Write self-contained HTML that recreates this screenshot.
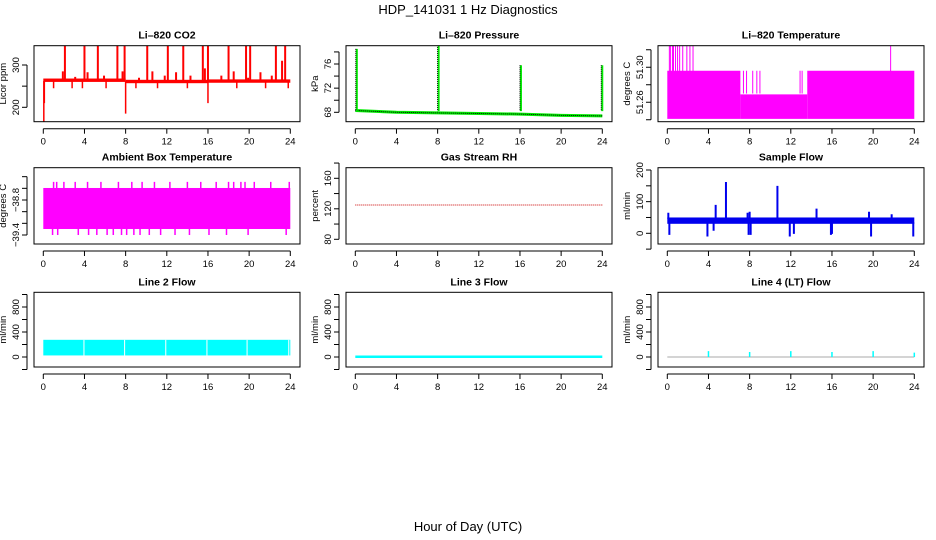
<!DOCTYPE html>
<html><head><meta charset="utf-8">
<style>
html,body{margin:0;padding:0;background:#fff;}
svg{display:block;font-family:"Liberation Sans",sans-serif;}
</style></head>
<body>
<svg id="chart" width="936" height="540" viewBox="0 0 936 540" xmlns="http://www.w3.org/2000/svg">
<text x="468" y="14" text-anchor="middle" font-size="13">HDP_141031  1 Hz Diagnostics</text>
<text x="468" y="531" text-anchor="middle" font-size="13">Hour of Day (UTC)</text>
</svg>
<script>
// ---- shared data ----
const xTicks = [0,4,8,12,16,20,24];
// CO2
const co2Base = [[0,8,264],[8,16,261],[16,24,262]];
const co2BigSpikes = [2.1,4.0,5.3,7.2,7.9,10.1,12.1,13.6,15.5,16.0,18.0,19.7,20.1,22.6,23.5];
const co2BigTop = 345;
const co2SmallSpikes = [[1.9,285],[3.1,272],[4.3,283],[5.9,275],[7.7,285],[9.3,270],[10.6,285],[11.8,275],[12.9,283],[14.3,275],[15.7,292],[17.3,275],[18.5,285],[19.9,270],[21.1,283],[22.2,275],[23.2,310]];
const co2Dips = [[0.05,165],[0.1,210],[1.0,245],[2.8,245],[3.8,245],[6.1,245],[8.0,185],[9.0,245],[11.1,245],[14.0,245],[16.0,210],[18.8,245],[21.6,245],[23.8,245]];
// Pressure
const presBase = [[0,68.3],[4,68.0],[8,67.9],[12,67.8],[16,67.7],[20,67.5],[24,67.4]];
const presSpikes = [[0.05,78.5],[8.0,79.8],[16.0,75.8],[23.9,75.8]];
// Li-820 temperature bands [start,end,top]
const tempBands = [[0,7.1,51.306],[7.1,13.6,51.279],[13.6,24,51.306]];
const tempBottom = 51.251;
const tempSpikesTop = [0.2,0.3,0.5,0.6,0.8,1.0,1.2,1.5,1.9,2.2,2.5,21.7];
const tempSpikesMid = [7.4,7.7,8.3,8.7,9.0,12.9,13.1];
const tempMax = 51.333;
// Ambient box temperature
const ambTop = -38.594, ambBottom = -39.297;
const ambUp = [1.0,1.3,2.0,3.1,4.3,5.6,7.3,8.6,9.6,10.8,12.3,14.0,15.3,16.8,18.0,18.5,19.2,19.6,20.5,22.1,23.9];
const ambUpVal = -38.49;
const ambDown = [0.9,1.4,3.4,4.4,5.2,6.2,6.8,7.6,8.1,8.8,9.4,10.3,11.4,12.8,14.2,16.1,17.8,19.9,23.6];
const ambDownVal = -39.4;
// Gas stream RH
const rhValue = 125;
// Sample flow
const flowLow = 30, flowHigh = 50;
const flowSpikes = [[0.1,65],[4.7,90],[5.7,162],[7.8,65],[8.0,68],[10.7,150],[14.5,78],[19.6,68],[21.8,60]];
const flowDips = [[0.2,-5],[3.9,-10],[4.5,8],[7.9,-5],[8.1,-5],[11.9,-10],[12.3,-2],[15.9,-5],[16.0,-2],[19.8,-10],[23.9,-10]];
// Line flows
const line2Low = 25, line2High = 275;
const line2Gaps = [3.95,7.9,11.9,15.9,19.8,23.85];
const line3Value = 5;
const line4Value = 0;
const line4Spikes = [[4.0,95],[8.0,80],[12.0,95],[16.0,80],[20.0,95],[24.0,70]];

// ---- layout ----
const svg = document.getElementById('chart');
const NS = 'http://www.w3.org/2000/svg';
const colL = [34,346,658], colR = [300,612,924], colX0 = [43.3,355.3,667.3], xSpan = 247;
const rowT = [45.7,167.7,292.3], rowB = [121.7,244,367];

function mk(tag, attrs, parent){
  const e = document.createElementNS(NS, tag);
  for (const k in attrs) e.setAttribute(k, attrs[k]);
  (parent||svg).appendChild(e);
  return e;
}
function panel(col,row,title,yLabel,yTicks,yTickLabels,v1,p1,v2,p2,name){
  const g = mk('g',{});
  
  
  const L=colL[col],R=colR[col],T=rowT[row],B=rowB[row];
  const xs = h => colX0[col] + h/24*xSpan;
  const ys = v => p1 + (v - v1)/(v2 - v1)*(p2 - p1);
  const plot = mk('g',{'clip-path':''},g);
  const cid='clip'+col+row;
  const cp = mk('clipPath',{id:cid},g);
  mk('rect',{x:L,y:T,width:R-L,height:B-T},cp);
  plot.setAttribute('clip-path','url(#'+cid+')');
  
  
  const fr = mk('rect',{x:L,y:T,width:R-L,height:B-T,fill:'none',stroke:'#000','stroke-width':1},g);
  
  
  const tt = mk('text',{x:(L+R)/2,y:T-7,'text-anchor':'middle','font-size':10.5,'font-weight':'bold'},g);
  tt.textContent = title;
  
  
  // x axis
  const ax = mk('g',{},g);
  
  
  const ya = B+7;
  mk('line',{x1:xs(0),x2:xs(24),y1:ya,y2:ya,stroke:'#000'},ax);
  xTicks.forEach(t=>{
    mk('line',{x1:xs(t),x2:xs(t),y1:ya,y2:ya+5,stroke:'#000'},ax);
    const tx = mk('text',{x:xs(t),y:ya+16,'text-anchor':'middle','font-size':9.5},ax);
    tx.textContent = t;
    
    
  });
  // y axis
  const ay = mk('g',{},g);
  
  
  const xa = L-7;
  mk('line',{x1:xa,x2:xa,y1:ys(yTicks[0]),y2:ys(yTicks[yTicks.length-1]),stroke:'#000'},ay);
  yTicks.forEach((t,i)=>{
    mk('line',{x1:xa,x2:xa-5,y1:ys(t),y2:ys(t),stroke:'#000'},ay);
    if (yTickLabels[i]!==''){
      const tx = mk('text',{x:0,y:0,'text-anchor':'middle','font-size':9.5,transform:`translate(${xa-8},${ys(t)}) rotate(-90)`},ay);
      tx.textContent = yTickLabels[i];
      
      
    }
  });
  const yt = mk('text',{x:0,y:0,'text-anchor':'middle','font-size':9.5,transform:`translate(${xa-21},${(T+B)/2}) rotate(-90)`},g);
  yt.textContent = yLabel;
  
  
  return {plot,xs,ys};
}
function vline(p,x,y1,y2,color,w,name){
  const e = mk('line',{x1:x,x2:x,y1:y1,y2:y2,stroke:color,'stroke-width':w||1},p);
  
  
  return e;
}
function rect(p,x1,x2,y1,y2,color,name){
  const e = mk('rect',{x:Math.min(x1,x2),y:Math.min(y1,y2),width:Math.abs(x2-x1),height:Math.abs(y2-y1),fill:color},p);
  
  
  return e;
}

// 1 CO2
(function(){
  const P = panel(0,0,'Li\u2013820 CO2','Licor ppm',[200,250,300],['200','','300'],200,107.3,300,65,'panel-co2');
  const red='#ff0000';
  co2Base.forEach(b=>rect(P.plot,P.xs(b[0]),P.xs(b[1]),P.ys(b[2]+4),P.ys(b[2]-4),red,'co2-baseline'));
  co2BigSpikes.forEach(h=>vline(P.plot,P.xs(h),P.ys(co2BigTop),P.ys(262),red,2,'co2-spike'));
  co2SmallSpikes.forEach(s=>vline(P.plot,P.xs(s[0]),P.ys(s[1]),P.ys(262),red,2,'co2-small-spike'));
  co2Dips.forEach(s=>vline(P.plot,P.xs(s[0]),P.ys(262),P.ys(s[1]),red,1.5,'co2-dip'));
})();
// 2 Pressure
(function(){
  const P = panel(1,0,'Li\u2013820 Pressure','kPa',[68,70,72,74,76,78],['68','','72','','76',''],68,112.3,76,64,'panel-pressure');
  const pts = presBase.map(p=>P.xs(p[0])+','+P.ys(p[1])).join(' ');
  const l = mk('polyline',{points:pts,fill:'none',stroke:'#00ee00','stroke-width':3},P.plot);
  
  
  const l2 = mk('polyline',{points:pts,fill:'none',stroke:'#000','stroke-width':1,'stroke-dasharray':'1,1'},P.plot);
  
  
  presSpikes.forEach(s=>{
    vline(P.plot,P.xs(s[0])+1,P.ys(s[1]),P.ys(68.2),'#00ee00',2,'pressure-spike');
    const d = vline(P.plot,P.xs(s[0]),P.ys(s[1]),P.ys(68.2),'#000',1,'pressure-spike-dotted');
    d.setAttribute('stroke-dasharray','1,1');
  });
})();
// 3 Li-820 Temperature
(function(){
  const P = panel(2,0,'Li\u2013820 Temperature','degrees C',[51.25,51.27,51.29,51.31,51.33].map(v=>v+0.0),['','51.26','','51.30',''],51.30,76,51.26,111,'panel-li820-temp');
  // ticks: 51.26/51.30 labeled
  const mag='#ff00ff';
  tempBands.forEach(b=>rect(P.plot,P.xs(b[0]),P.xs(b[1]),P.ys(b[2]),P.ys(tempBottom),mag,'temp-band'));
  tempSpikesTop.forEach(h=>vline(P.plot,P.xs(h),P.ys(tempMax+0.01),P.ys(51.30),mag,1,'temp-spike'));
  tempSpikesMid.forEach(h=>vline(P.plot,P.xs(h),P.ys(51.306),P.ys(51.28),mag,1,'temp-spike'));
})();
// 4 Ambient
(function(){
  const P = panel(0,1,'Ambient Box Temperature','degrees C',[-38.4,-38.6,-38.8,-39.0,-39.2,-39.4],['','','\u221238.8','','','\u221239.4'],-38.8,200,-39.4,235,'panel-ambient-temp');
  const mag='#ff00ff';
  rect(P.plot,P.xs(0),P.xs(24),P.ys(ambTop),P.ys(ambBottom),mag,'ambient-band');
  ambUp.forEach(h=>vline(P.plot,P.xs(h),P.ys(ambUpVal),P.ys(ambTop),mag,1.5,'ambient-spike'));
  ambDown.forEach(h=>vline(P.plot,P.xs(h),P.ys(ambBottom),P.ys(ambDownVal),mag,1.5,'ambient-dip'));
})();
// 5 RH
(function(){
  const P = panel(1,1,'Gas Stream RH','percent',[80,100,120,140,160,180],['80','','120','','160',''],160,178.3,80,239.3,'panel-gas-rh');
  const l = mk('line',{x1:P.xs(0),x2:P.xs(24),y1:P.ys(rhValue),y2:P.ys(rhValue),stroke:'#cc0000','stroke-width':1,'stroke-dasharray':'1,1'},P.plot);
  
  
})();
// 6 Sample flow
(function(){
  const P = panel(2,1,'Sample Flow','ml/min',[-50,0,50,100,150,200],['','0','','100','','200'],0,233.3,200,170,'panel-sample-flow');
  const blue='#0000ee';
  rect(P.plot,P.xs(0),P.xs(24),P.ys(flowHigh),P.ys(flowLow),blue,'flow-band');
  flowSpikes.forEach(s=>vline(P.plot,P.xs(s[0]),P.ys(s[1]),P.ys(45),blue,2,'flow-spike'));
  flowDips.forEach(s=>vline(P.plot,P.xs(s[0]),P.ys(35),P.ys(s[1]),blue,2,'flow-dip'));
})();
// 7-9 Line flows
const lineTicks=[-200,0,200,400,600,800,1000], lineLabels=['','0','','400','','800',''];
(function(){
  const P = panel(0,2,'Line 2 Flow','ml/min',lineTicks,lineLabels,0,357,800,307,'panel-line2-flow');
  rect(P.plot,P.xs(0),P.xs(24),P.ys(line2High),P.ys(line2Low),'#00ffff','line2-band');
  line2Gaps.forEach(h=>vline(P.plot,P.xs(h),P.ys(line2High),P.ys(line2Low),'#ffffff',1,'line2-gap'));
})();
(function(){
  const P = panel(1,2,'Line 3 Flow','ml/min',lineTicks,lineLabels,0,357,800,307,'panel-line3-flow');
  const l = mk('line',{x1:P.xs(0),x2:P.xs(24),y1:P.ys(line3Value),y2:P.ys(line3Value),stroke:'#00ffff','stroke-width':2.5},P.plot);
  
  
})();
(function(){
  const P = panel(2,2,'Line 4 (LT) Flow','ml/min',lineTicks,lineLabels,0,357,800,307,'panel-line4-flow');
  const l = mk('line',{x1:P.xs(0),x2:P.xs(24),y1:P.ys(line4Value),y2:P.ys(line4Value),stroke:'#aaaaaa','stroke-width':1},P.plot);
  
  
  line4Spikes.forEach(s=>vline(P.plot,P.xs(s[0]),P.ys(s[1]),P.ys(line4Value),'#00ffff',1.5,'line4-spike'));
})();
</script>
</body></html>
